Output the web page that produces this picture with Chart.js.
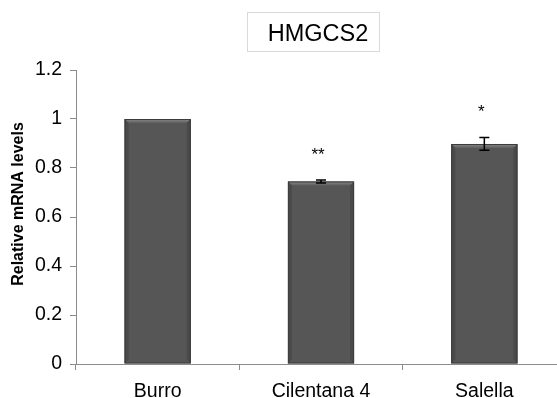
<!DOCTYPE html>
<html>
<head>
<meta charset="utf-8">
<script src="https://cdn.jsdelivr.net/npm/chart.js@4.4.0/dist/chart.umd.min.js"></script>
<style>
  html, body { margin: 0; padding: 0; background: #fff; overflow: hidden; }
  #wrap { width: 557px; height: 398px; overflow: hidden; }
  #chart { display: block; }
</style>
</head>
<body>
<div id="wrap"><canvas id="chart" width="566" height="398"></canvas></div>
<script>
// values
const categories = ['Burro', 'Cilentana 4', 'Salella'];
const meanLevels = [1.0, 0.745, 0.898];
const errorLevels = [0, 0.006, 0.026];
const significance = ['', '**', '*'];
const yTicks = [0, 0.2, 0.4, 0.6, 0.8, 1, 1.2];
const chartTitle = 'HMGCS2';
const yTitle = 'Relative mRNA levels';

const axisGrey = '#8c8c8c';
const fontFamily = '"Liberation Sans", Arial, sans-serif';

// bevel look of the bars (lighter top edge, darker sides)
const bevelPlugin = {
  id: 'bevel',
  afterDatasetDraw(chart) {
    const ctx = chart.ctx;
    const meta = chart.getDatasetMeta(0);
    ctx.save();
    meta.data.forEach(bar => {
      const { x, y, base, width } = bar.getProps(['x', 'y', 'base', 'width'], true);
      const l = x - width / 2, r = x + width / 2;
      const d = 4;
      // top edge
      const g = ctx.createLinearGradient(0, y, 0, y + d);
      g.addColorStop(0, '#8a8a8a');
      g.addColorStop(1, '#5e5e5e');
      ctx.fillStyle = g;
      ctx.beginPath();
      ctx.moveTo(l, y); ctx.lineTo(r, y); ctx.lineTo(r - d, y + d); ctx.lineTo(l + d, y + d);
      ctx.closePath(); ctx.fill();
      // sides
      ctx.fillStyle = '#4a4a4a';
      ctx.beginPath();
      ctx.moveTo(l, y); ctx.lineTo(l + d, y + d); ctx.lineTo(l + d, base - d); ctx.lineTo(l, base);
      ctx.closePath(); ctx.fill();
      ctx.beginPath();
      ctx.moveTo(r, y); ctx.lineTo(r - d, y + d); ctx.lineTo(r - d, base - d); ctx.lineTo(r, base);
      ctx.closePath(); ctx.fill();
      ctx.strokeStyle = '#3c3c3c';
      ctx.lineWidth = 1;
      ctx.strokeRect(l + 0.5, y + 0.5, width - 1, base - y - 1);
    });
    ctx.restore();
  }
};

// error bars, stars, y title and the boxed title
const extrasPlugin = {
  id: 'extras',
  afterDatasetsDraw(chart) {
    const ctx = chart.ctx;
    const y = chart.scales.y;
    const meta = chart.getDatasetMeta(0);
    ctx.save();
    meta.data.forEach((bar, i) => {
      const err = errorLevels[i];
      const x = bar.x;
      const top = y.getPixelForValue(meanLevels[i] + err);
      const bot = y.getPixelForValue(meanLevels[i] - err);
      if (err > 0) {
        ctx.strokeStyle = '#000';
        ctx.lineWidth = 1.5;
        ctx.beginPath();
        ctx.moveTo(x, top); ctx.lineTo(x, bot);
        ctx.moveTo(x - 5, top); ctx.lineTo(x + 5, top);
        ctx.moveTo(x - 5, bot); ctx.lineTo(x + 5, bot);
        ctx.stroke();
      }
      if (significance[i]) {
        ctx.fillStyle = '#000';
        ctx.font = '17px ' + fontFamily;
        ctx.textAlign = 'center';
        ctx.textBaseline = 'middle';
        ctx.fillText(significance[i], x - 3, top - 25);
      }
    });

    // y axis title, a little above the middle of the axis as in the original
    ctx.save();
    ctx.translate(19, 204);
    ctx.rotate(-Math.PI / 2);
    ctx.font = 'bold 16px ' + fontFamily;
    ctx.textAlign = 'center';
    ctx.textBaseline = 'middle';
    ctx.fillStyle = '#000';
    ctx.fillText(yTitle, 0, 0);
    ctx.restore();

    // title box
    ctx.font = '23.5px ' + fontFamily;
    ctx.textAlign = 'center';
    ctx.textBaseline = 'alphabetic';
    ctx.fillStyle = '#000';
    ctx.fillText(chartTitle, 318, 41);
    ctx.strokeStyle = '#d9d9d9';
    ctx.lineWidth = 1;
    ctx.strokeRect(247.5, 12.5, 132, 39);
    ctx.restore();
  }
};

new Chart(document.getElementById('chart'), {
  type: 'bar',
  data: {
    labels: categories,
    datasets: [{
      data: meanLevels,
      backgroundColor: '#565656',
      borderWidth: 0,
      categoryPercentage: 1,
      barPercentage: 0.405
    }]
  },
  options: {
    responsive: false,
    animation: false,
    layout: { padding: { top: 70, left: 0, right: 0, bottom: 0 } },
    plugins: {
      legend: { display: false },
      tooltip: { enabled: false }
    },
    scales: {
      x: {
        grid: {
          display: true,
          drawOnChartArea: false,
          color: axisGrey,
          tickLength: 6,
          offset: true
        },
        border: { color: axisGrey, width: 1 },
        ticks: {
          color: '#000',
          padding: 10,
          font: { family: fontFamily, size: 19.5 }
        },
        afterFit(scale) { scale.height = 34; }
      },
      y: {
        min: 0,
        max: 1.2,
        afterBuildTicks(scale) { scale.ticks = yTicks.map(v => ({ value: v })); },
        grid: {
          display: true,
          drawOnChartArea: false,
          color: axisGrey,
          tickLength: 6
        },
        border: { color: axisGrey, width: 1 },
        ticks: {
          color: '#000',
          padding: 8,
          font: { family: fontFamily, size: 19.5 },
          callback: v => String(Number(v.toFixed(1)))
        },
        afterFit(scale) { scale.width = 76; }
      }
    }
  },
  plugins: [bevelPlugin, extrasPlugin]
});
</script>
</body>
</html>
